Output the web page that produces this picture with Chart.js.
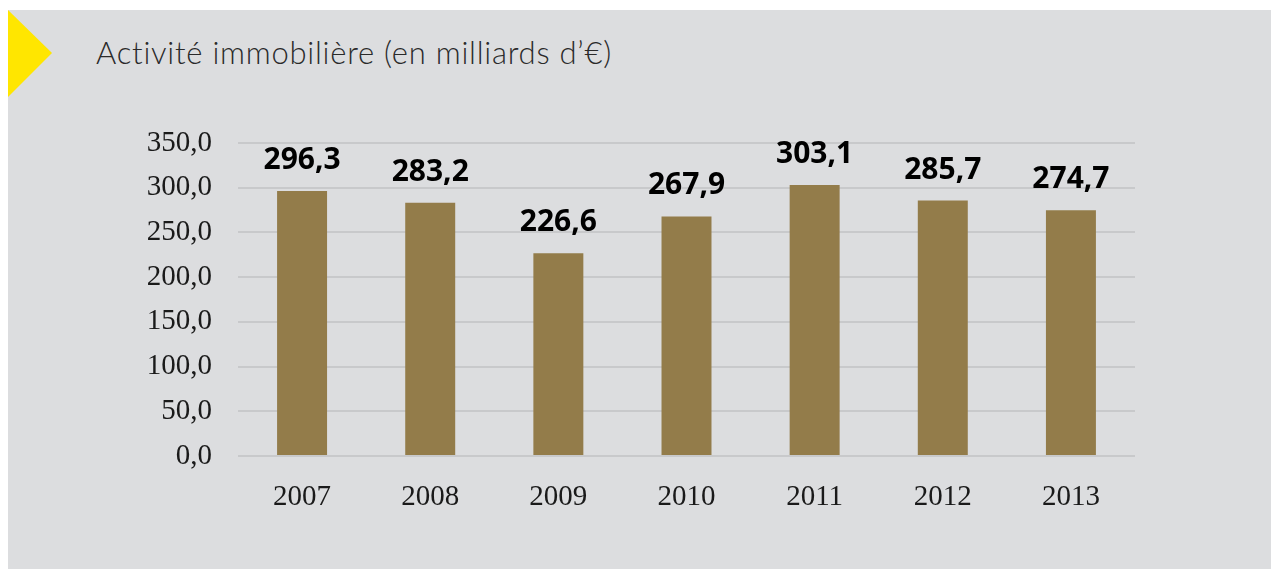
<!DOCTYPE html>
<html>
<head>
<meta charset="utf-8">
<script src="https://cdn.jsdelivr.net/npm/chart.js@4"></script>
<style>
  html, body { margin: 0; padding: 0; background: #fff; }
  #panel { position: absolute; left: 8px; top: 10px; width: 1263px; height: 559px; background: #dcdddf; overflow: hidden; }
  #tri { position: absolute; left: 0; top: 0; }
  #titre { position: absolute; left: 88px; top: 23px; font-family: Lato, sans-serif; font-weight: 300; font-size: 31px; letter-spacing: 0.75px; color: #2a2a2a; white-space: nowrap; }
  #visu { position: absolute; left: 0; top: 0; }
</style>
</head>
<body>
<div id="panel">
  <svg id="tri" width="50" height="90"><polygon points="0,0 44,43 0,87" fill="#ffe600"/></svg>
  <div id="titre">Activité immobilière (en milliards d’€)</div>
  <canvas id="visu" width="1263" height="559"></canvas>
</div>
<script>
// données
const annees = ['2007', '2008', '2009', '2010', '2011', '2012', '2013'];
const activite = [296.3, 283.2, 226.6, 267.9, 303.1, 285.7, 274.7];
const graduations = [0, 50, 100, 150, 200, 250, 300, 350];

const virgule = v => v.toFixed(1).replace('.', ',');

// étiquettes au-dessus des barres
const etiquettes = {
    id: 'etiquettes',
    afterDatasetsDraw(chart) {
        const ctx = chart.ctx;
        ctx.save();
        ctx.font = 'bold 30px "Open Sans", sans-serif';
        ctx.fillStyle = '#000';
        ctx.textAlign = 'center';
        ctx.textBaseline = 'alphabetic';
        chart.getDatasetMeta(0).data.forEach((bar, i) => {
            ctx.fillText(virgule(activite[i]), bar.x, bar.y - 22);
        });
        ctx.restore();
    }
};

const config = {
    type: 'bar',
    data: {
        labels: annees,
        datasets: [{
            data: activite,
            backgroundColor: '#937c4a',
            barPercentage: 0.39,
            categoryPercentage: 1
        }]
    },
    options: {
        responsive: false,
        animation: false,
        layout: { padding: { top: 133, right: 136, left: 0, bottom: 0 } },
        plugins: { legend: { display: false }, tooltip: { enabled: false } },
        scales: {
            x: {
                grid: { display: false },
                border: { display: false },
                ticks: { color: '#1a1a1a', font: { family: '"Liberation Serif", serif', size: 29 }, padding: 16 },
                afterFit: scale => { scale.height = 113; }
            },
            y: {
                min: 0,
                max: 350,
                afterBuildTicks: scale => { scale.ticks = graduations.map(v => ({ value: v })); },
                grid: { color: '#c8c9cb', lineWidth: 2, drawTicks: false },
                border: { display: false },
                ticks: {
                    color: '#1a1a1a',
                    font: { family: '"Liberation Serif", serif', size: 29 },
                    padding: 26,
                    callback: v => virgule(v)
                },
                afterFit: scale => { scale.width = 230; }
            }
        }
    },
    plugins: [etiquettes]
};

const ctx = document.getElementById('visu').getContext('2d');
new Chart(ctx, config);
</script>
</body>
</html>
